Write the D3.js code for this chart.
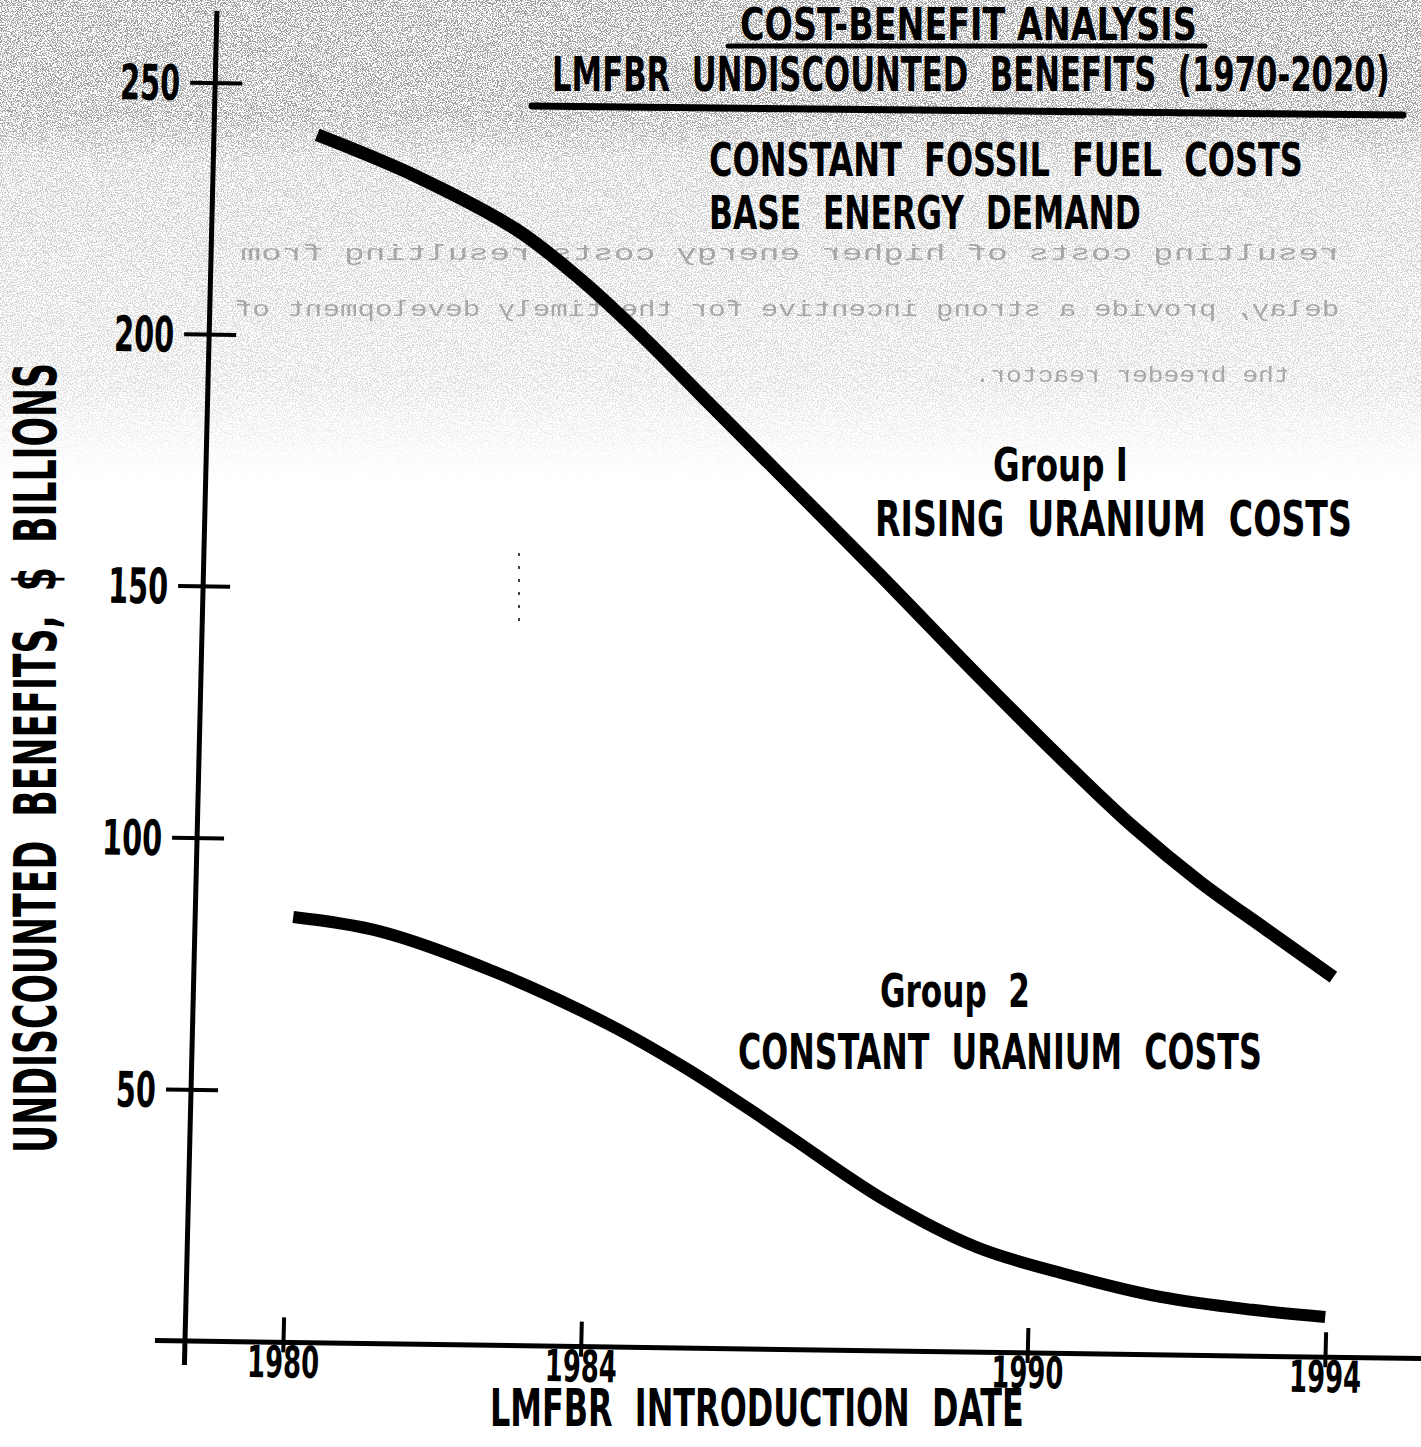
<!DOCTYPE html>
<html>
<head>
<meta charset="utf-8">
<script src="https://d3js.org/d3.v7.min.js"></script>
<style>
body { margin: 0; background: #fff; }
svg text {
    font-family: "Liberation Sans Narrow", "DejaVu Sans Condensed", "Liberation Sans", sans-serif;
    font-weight: bold;
    fill: #000;
    white-space: pre;
}
svg text.ghost {
    font-family: "Liberation Mono", "DejaVu Sans Mono", monospace;
    font-weight: normal;
    fill: #8a8a8a;
}
</style>
</head>
<body>
<div id="chart"></div>
<script>
"use strict";

// LMFBR introduction date (year) and undiscounted benefits ($ billions)
var group1_years  = [1980.07, 1981.42, 1982.78, 1983.69, 1984.51, 1985.30, 1986.40,
                     1987.77, 1989.15, 1990.35, 1991.25, 1992.17, 1993.08, 1993.99];
var group1_values = [239.9, 231.9, 221.6, 211.5, 200.7, 189.4, 173.7,
                     154.1, 133.9, 116.9, 104.8, 94.0, 84.7, 75.5];

var group2_years  = [1980.00, 1981.17, 1982.72, 1984.28, 1985.32, 1986.20, 1986.77,
                     1988.03, 1989.28, 1990.53, 1991.77, 1993.01, 1993.99];
var group2_values = [84.5, 81.9, 74.2, 64.0, 55.6, 47.5, 42.0,
                     30.0, 20.9, 15.6, 11.5, 9.2, 8.0];

var x_ticks = [1980, 1984, 1990, 1994];
var y_ticks = [50, 100, 150, 200, 250];

var width = 1421, height = 1447;

function to_points(years, values) {
    return years.map(function(year, i) {
        return { "year" : year, "value" : values[i] };
    });
}

// horizontal squeeze so the text spans len pixels (the scan uses a condensed face)
function squeeze(text_sel, len) {
    var w = text_sel.node().getComputedTextLength();
    return w > 0 ? len / w : 1;
}

// scanned paper: grey speckle + text showing through from the back of the page
function draw_paper(svg) {
    var defs = svg.append("defs");

    var filter = defs.append("filter")
        .attr("id", "speckle")
        .attr("filterUnits", "userSpaceOnUse")
        .attr("x", 0).attr("y", 0)
        .attr("width", width).attr("height", 480);
    filter.append("feTurbulence")
        .attr("type", "fractalNoise")
        .attr("baseFrequency", 0.8)
        .attr("numOctaves", 2)
        .attr("seed", 7);
    filter.append("feColorMatrix")
        .attr("type", "matrix")
        .attr("values", "0 0 0 0 0.35  0 0 0 0 0.35  0 0 0 0 0.35  -14 0 0 0 7.3");

    var grad = defs.append("linearGradient")
        .attr("id", "fade")
        .attr("x1", 0).attr("y1", 0).attr("x2", 0).attr("y2", 1);
    [[0, 1], [0.24, 0.95], [0.34, 0.55], [0.8, 0.35], [1, 0]].forEach(function(s) {
        grad.append("stop")
            .attr("offset", s[0])
            .attr("stop-color", "#fff")
            .attr("stop-opacity", s[1]);
    });
    defs.append("mask")
        .attr("id", "fade_mask")
        .append("rect")
        .attr("x", 0).attr("y", 0)
        .attr("width", width).attr("height", 480)
        .attr("fill", "url(#fade)");

    svg.append("rect")
        .attr("x", 0).attr("y", 0)
        .attr("width", width).attr("height", 480)
        .attr("filter", "url(#speckle)")
        .attr("mask", "url(#fade_mask)");

    // back page text, mirrored
    var ghost_lines = [
        { "text" : "resulting costs of higher energy costs resulting from", "cx" : 790, "y" : 260, "w" : 1100 },
        { "text" : "delay, provide a strong incentive for the timely development of", "cx" : 787, "y" : 316, "w" : 1105 },
        { "text" : "the breeder reactor.", "cx" : 1132, "y" : 382, "w" : 315 }
    ];
    svg.append("g")
        .selectAll("text")
        .data(ghost_lines)
        .enter()
        .append("text")
        .attr("class", "ghost")
        .attr("text-anchor", "middle")
        .attr("font-size", 22)
        .attr("opacity", 0.7)
        .text(function(d) { return d.text; })
        .each(function(d) {
            var t = d3.select(this);
            var sx = squeeze(t, d.w);
            t.attr("transform", "translate(" + d.cx + "," + d.y + ") scale(" + (-sx) + ",1)");
        });
}

function add_label(svg, str, x, baseline, size, len) {
    var t = svg.append("text")
        .attr("font-size", size)
        .text(str);
    var sx = squeeze(t, len);
    t.attr("transform", "translate(" + x + "," + baseline + ") scale(" + sx + ",1)");
    return t;
}

function draw_chart() {
    var svg = d3.select("#chart")
        .append("svg")
        .attr("width", width)
        .attr("height", height);

    svg.append("rect")
        .attr("width", width).attr("height", height)
        .attr("fill", "#fff");

    draw_paper(svg);

    // the scanned axes are slightly tilted, so the plot frame is a small shear
    var plot = svg.append("g")
        .attr("transform", "matrix(1,0.0142,-0.024,1,185,1341)");

    var x = d3.scaleLinear().domain([1980, 1994]).range([98, 1140]);
    var y = d3.scaleLinear().domain([0, 250]).range([0, -1258.5]);

    // axis lines
    plot.append("line")
        .attr("x1", -30).attr("x2", 1300)
        .attr("y1", 0).attr("y2", 0)
        .attr("stroke", "#000").attr("stroke-width", 5);
    plot.append("line")
        .attr("x1", 0).attr("x2", 0)
        .attr("y1", 24).attr("y2", -1330)
        .attr("stroke", "#000").attr("stroke-width", 5);

    // y axis
    var gy = plot.append("g")
        .call(d3.axisLeft(y).tickValues(y_ticks).tickSize(25).tickPadding(10))
        .attr("font-size", null)
        .attr("font-family", null);
    gy.select(".domain").remove();
    gy.selectAll(".tick line")
        .attr("x1", 27).attr("x2", -25)
        .attr("stroke", "#000").attr("stroke-width", 4);
    gy.selectAll(".tick text")
        .attr("fill", null)
        .attr("font-size", 49)
        .attr("dy", "0.36em")
        .attr("textLength", function(d) { return String(d).length * 20; })
        .attr("lengthAdjust", "spacingAndGlyphs");

    // x axis
    var gx = plot.append("g")
        .call(d3.axisBottom(x).tickValues(x_ticks).tickFormat(d3.format("d")).tickSize(10))
        .attr("font-size", null)
        .attr("font-family", null);
    gx.select(".domain").remove();
    gx.selectAll(".tick line")
        .attr("y1", -25).attr("y2", 10)
        .attr("stroke", "#000").attr("stroke-width", 4);
    gx.selectAll(".tick text")
        .attr("fill", null)
        .attr("font-size", 44)
        .attr("y", 35)
        .attr("dy", 0)
        .attr("textLength", 72)
        .attr("lengthAdjust", "spacingAndGlyphs");

    // curves
    var line = d3.line()
        .curve(d3.curveCatmullRom.alpha(0.5))
        .x(function(d) { return x(d.year); })
        .y(function(d) { return y(d.value); });

    plot.append("path")
        .attr("d", line(to_points(group1_years, group1_values)))
        .attr("fill", "none")
        .attr("stroke", "#000")
        .attr("stroke-width", 13);
    plot.append("path")
        .attr("d", line(to_points(group2_years, group2_values)))
        .attr("fill", "none")
        .attr("stroke", "#000")
        .attr("stroke-width", 12);

    // headings
    add_label(svg, "COST-BENEFIT ANALYSIS", 740, 40, 44, 457);
    add_label(svg, "LMFBR  UNDISCOUNTED  BENEFITS  (1970-2020)", 552, 91, 48, 838);
    add_label(svg, "CONSTANT  FOSSIL  FUEL  COSTS", 709, 176, 47, 594);
    add_label(svg, "BASE  ENERGY  DEMAND", 709, 229, 47, 432);
    svg.append("line")
        .attr("x1", 728).attr("y1", 46).attr("x2", 1205).attr("y2", 46)
        .attr("stroke", "#000").attr("stroke-width", 5).attr("stroke-linecap", "round");
    svg.append("line")
        .attr("x1", 532).attr("y1", 106).attr("x2", 1403).attr("y2", 115)
        .attr("stroke", "#000").attr("stroke-width", 7).attr("stroke-linecap", "round");

    // curve labels
    add_label(svg, "Group I", 993, 481, 47, 135);
    add_label(svg, "RISING  URANIUM  COSTS", 875, 536, 49, 477);
    add_label(svg, "Group  2", 880, 1007, 47, 150);
    add_label(svg, "CONSTANT  URANIUM  COSTS", 738, 1069, 49, 524);

    // axis titles
    add_label(svg, "LMFBR  INTRODUCTION  DATE", 490, 1426, 52, 534);
    var ytitle = svg.append("text")
        .attr("text-anchor", "middle")
        .attr("font-size", 59)
        .text("UNDISCOUNTED  BENEFITS,  $  BILLIONS");
    ytitle.attr("transform", "translate(56,758) rotate(-90) scale(" + squeeze(ytitle, 790) + ",1)");

    // faint dotted scratch on the scan
    svg.append("line")
        .attr("x1", 519).attr("y1", 553).attr("x2", 519).attr("y2", 628)
        .attr("stroke", "#444").attr("stroke-width", 2)
        .attr("stroke-dasharray", "3 10");
}

draw_chart();
</script>
</body>
</html>
